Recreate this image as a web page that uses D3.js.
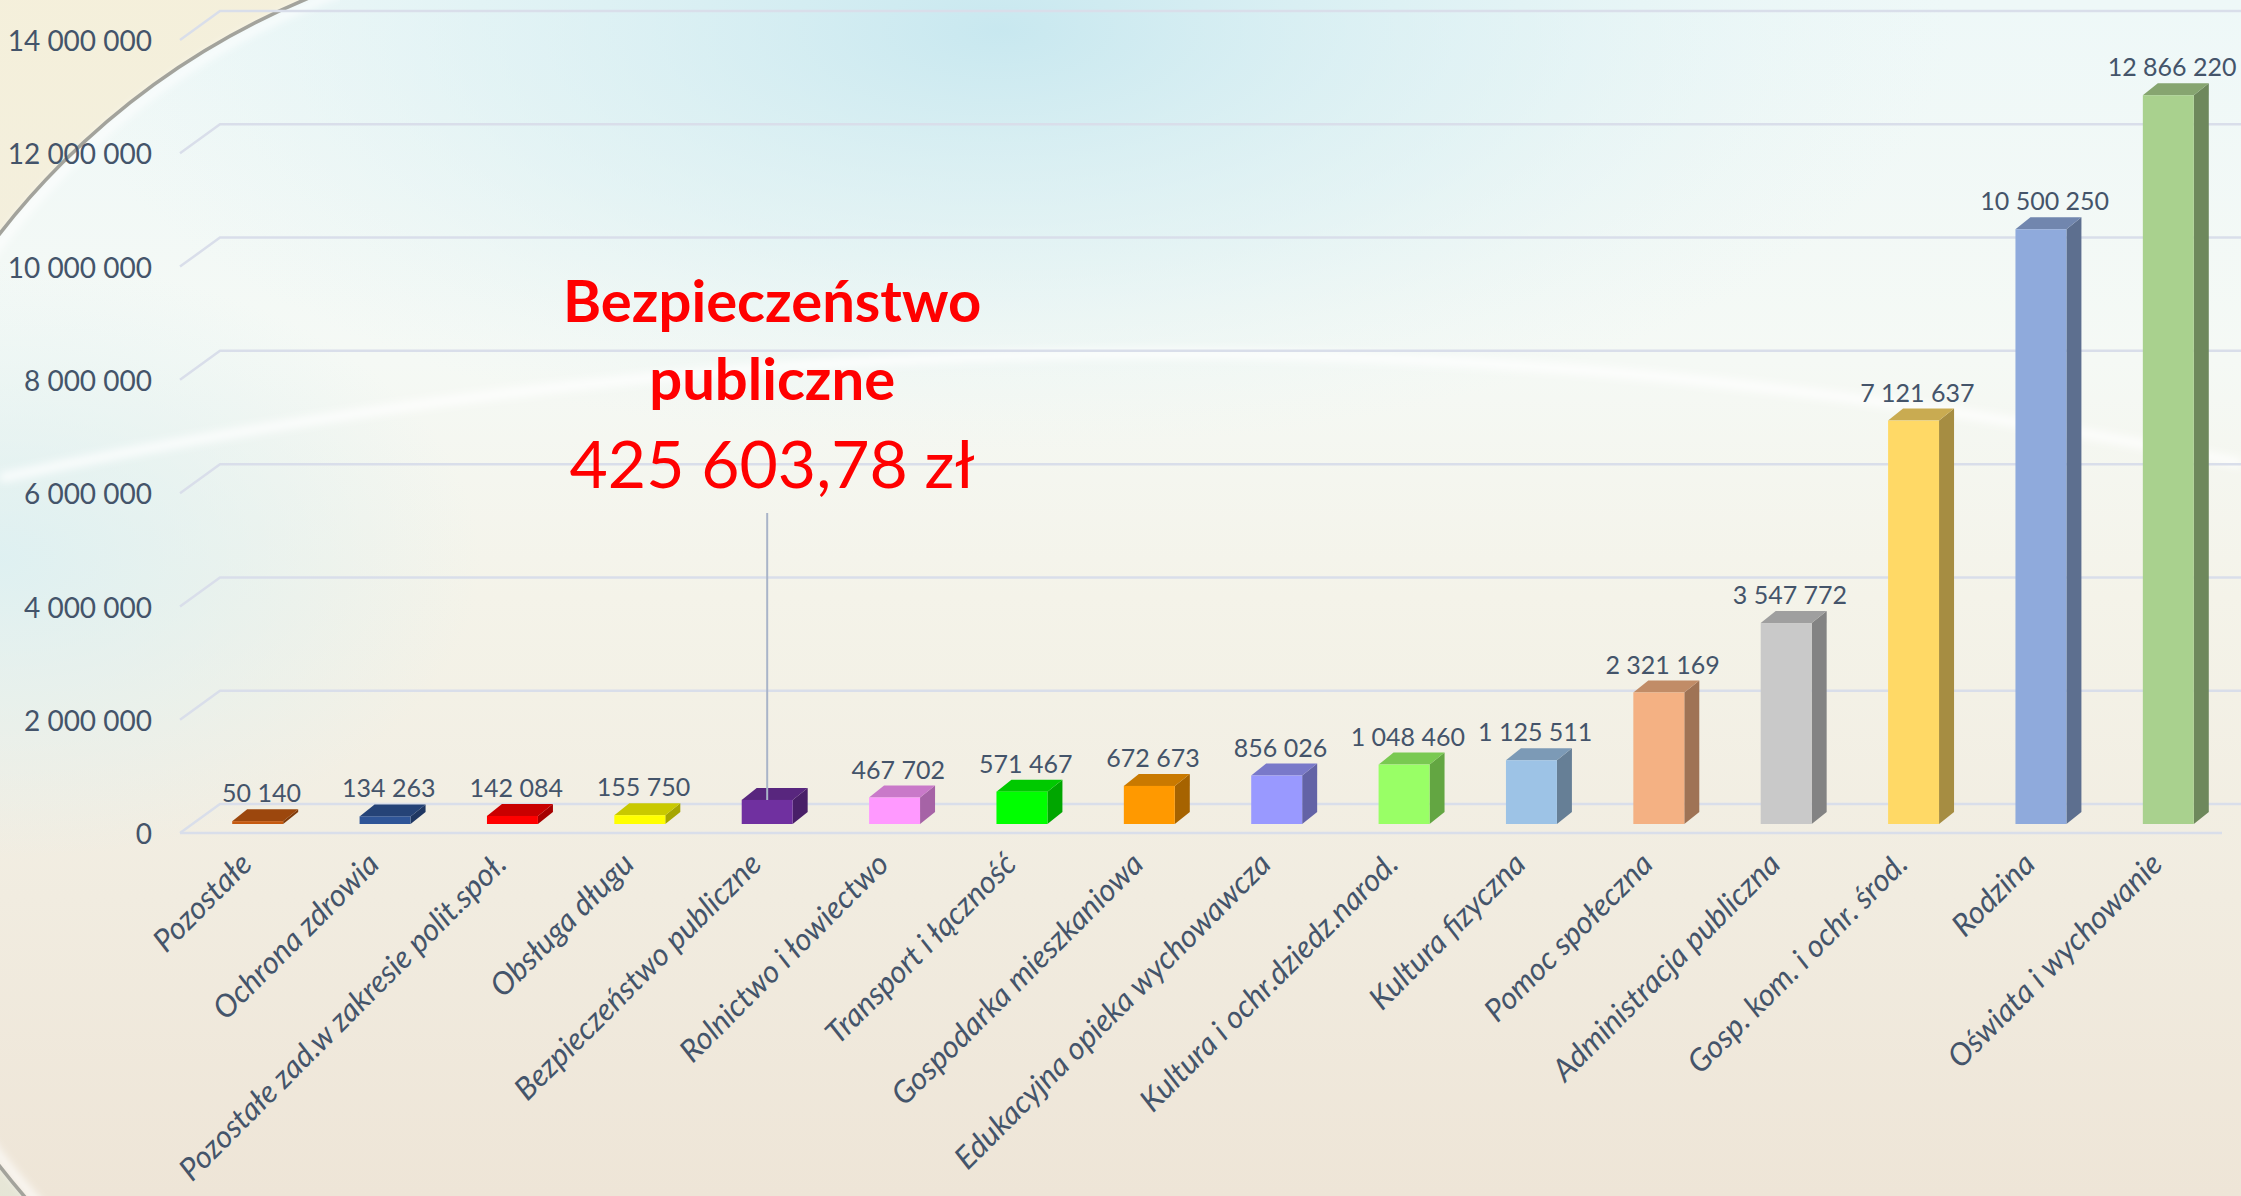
<!DOCTYPE html>
<html>
	<head>
		<title>Wydatki według działów</title>
		<meta charset="utf-8">
	</head>
	<body>
		<svg id="chart"></svg>
	</body>

	<script src="https://cdn.jsdelivr.net/npm/d3@7"></script>
	<script>
		// data
		const categories = [
			"Pozostałe",
			"Ochrona zdrowia",
			"Pozostałe zad.w zakresie polit.społ.",
			"Obsługa długu",
			"Bezpieczeństwo publiczne",
			"Rolnictwo i łowiectwo",
			"Transport i łączność",
			"Gospodarka mieszkaniowa",
			"Edukacyjna opieka wychowawcza",
			"Kultura i ochr.dziedz.narod.",
			"Kultura fizyczna",
			"Pomoc społeczna",
			"Administracja publiczna",
			"Gosp. kom. i ochr. środ.",
			"Rodzina",
			"Oświata i wychowanie"
		];
		const values = [50140, 134263, 142084, 155750, 425603.78, 467702, 571467, 672673,
			856026, 1048460, 1125511, 2321169, 3547772, 7121637, 10500250, 12866220];
		const barColors = ["#C55A11", "#2F5597", "#FF0000", "#FFFF00", "#7030A0", "#FF99FF",
			"#00FF00", "#FF9900", "#9999FF", "#99FF66", "#9DC3E6", "#F4B183",
			"#C9C9C9", "#FFD966", "#8FAADC", "#A9D18E"];
		const yTicks = [0, 2000000, 4000000, 6000000, 8000000, 10000000, 12000000, 14000000];
		const calloutLines = ["Bezpieczeństwo", "publiczne"];
		const calloutIndex = 4;

		const width = 2241, height = 1196;
		const textColor = "#44546A";
		const font = "Lato, 'Open Sans', sans-serif";

		const pl = d3.formatLocale({decimal: ",", thousands: " ", grouping: [3], currency: ["", " zł"]});
		const fmtInt = pl.format(",.0f");
		const fmtMoney = pl.format("$,.2f");

		const svg = d3.select("#chart")
			.attr("width", width)
			.attr("height", height);

		// ---------- background ----------
		const defs = svg.append("defs");

		const bg = defs.append("linearGradient").attr("id", "bg")
			.attr("x1", 0).attr("y1", 0).attr("x2", 0).attr("y2", 1);
		[[0, "#EEF8F8"], [0.3, "#F5F9F5"], [0.5, "#F4F3E9"], [1, "#EEE5D7"]]
			.forEach(s => bg.append("stop").attr("offset", s[0]).attr("stop-color", s[1]));

		const glow = defs.append("radialGradient").attr("id", "glowTop")
			.attr("gradientUnits", "userSpaceOnUse")
			.attr("cx", 0).attr("cy", 0).attr("r", 1)
			.attr("gradientTransform", "translate(1000,30) scale(950,420)");
		glow.append("stop").attr("offset", 0).attr("stop-color", "#C6E7EF").attr("stop-opacity", 0.95);
		glow.append("stop").attr("offset", 0.55).attr("stop-color", "#D6EEF2").attr("stop-opacity", 0.5);
		glow.append("stop").attr("offset", 1).attr("stop-color", "#E6F4F4").attr("stop-opacity", 0);

		const glowL = defs.append("radialGradient").attr("id", "glowLeft")
			.attr("gradientUnits", "userSpaceOnUse")
			.attr("cx", 0).attr("cy", 0).attr("r", 1)
			.attr("gradientTransform", "translate(0,560) scale(480,300)");
		glowL.append("stop").attr("offset", 0).attr("stop-color", "#DCF0F2").attr("stop-opacity", 0.9);
		glowL.append("stop").attr("offset", 1).attr("stop-color", "#DCF0F2").attr("stop-opacity", 0);

		const outer = defs.append("linearGradient").attr("id", "outer")
			.attr("x1", 0).attr("y1", 0).attr("x2", 0).attr("y2", 1);
		[[0, "#F5F0DA"], [0.5, "#F2EEDF"], [1, "#DCDFCF"]]
			.forEach(s => outer.append("stop").attr("offset", s[0]).attr("stop-color", s[1]));

		defs.append("clipPath").attr("id", "leftClip")
			.append("rect").attr("x", 0).attr("y", 0).attr("width", 340).attr("height", height);

		defs.append("filter").attr("id", "soft")
			.append("feGaussianBlur").attr("stdDeviation", 4);

		svg.append("rect").attr("width", width).attr("height", height).attr("fill", "url(#bg)");
		svg.append("rect").attr("width", width).attr("height", height).attr("fill", "url(#glowTop)");
		svg.append("rect").attr("width", width).attr("height", height).attr("fill", "url(#glowLeft)");

		// faint light band across the middle
		svg.append("path")
			.attr("d", "M0,478 Q1130,237 2241,463")
			.attr("fill", "none")
			.attr("stroke", "#FFFFFF")
			.attr("stroke-opacity", 0.85)
			.attr("stroke-width", 9)
			.attr("filter", "url(#soft)");

		// big circle edge on the left
		const cx = 600, cy = 700, cr = 760;
		const deco = svg.append("g").attr("clip-path", "url(#leftClip)");
		deco.append("path")
			.attr("d", `M-300,-200H1700V1600H-300Z M${cx - cr},${cy} a${cr},${cr} 0 1,0 ${2 * cr},0 a${cr},${cr} 0 1,0 ${-2 * cr},0Z`)
			.attr("fill", "url(#outer)")
			.attr("fill-rule", "evenodd");
		deco.append("circle")
			.attr("cx", cx).attr("cy", cy).attr("r", cr - 6)
			.attr("fill", "none")
			.attr("stroke", "#FFFFFF")
			.attr("stroke-opacity", 0.8)
			.attr("stroke-width", 8)
			.attr("filter", "url(#soft)");
		deco.append("circle")
			.attr("cx", cx).attr("cy", cy).attr("r", cr)
			.attr("fill", "none")
			.attr("stroke", "#A3A39C")
			.attr("stroke-width", 3.5);

		// ---------- scales ----------
		const x = d3.scaleBand()
			.domain(categories)
			.range([194, 2232])
			.paddingInner(0.6)
			.paddingOuter(0.3);
		const bw = x.bandwidth();

		// front edge, back wall and bar base planes of the 3d box
		const yFront = d3.scaleLinear().domain([0, 14000000]).range([833, 40]);
		const yBack  = d3.scaleLinear().domain([0, 14000000]).range([804, 11]);
		const yBar   = d3.scaleLinear().domain([0, 14000000]).range([824, 31]);

		const wallFront = 180, wallBack = 220;
		const depthX = 15, depthY = -12;

		// ---------- gridlines ----------
		svg.append("g")
			.selectAll("path")
			.data(yTicks)
			.enter().append("path")
				.attr("class", "grid")
				.attr("d", d => `M${wallFront},${yFront(d)}L${wallBack},${yBack(d)}H${width}`);

		svg.append("path")
			.attr("class", "grid")
			.attr("d", `M${wallFront},${yFront(0)}H2222`);

		// ---------- y axis ----------
		const yAxis = svg.append("g")
			.attr("transform", `translate(${wallFront},0)`)
			.call(d3.axisLeft(yFront).tickValues(yTicks).tickFormat(fmtInt).tickSize(0).tickPadding(28));
		yAxis.select(".domain").remove();
		yAxis.selectAll("text")
			.attr("dy", "0.38em")
			.attr("fill", textColor)
			.style("font-family", font)
			.style("font-size", "28px");

		// ---------- bars ----------
		const shade = (c, k) => {
			const r = d3.rgb(c);
			return d3.rgb(r.r * k, r.g * k, r.b * k).formatHex();
		};

		const bars = svg.append("g")
			.selectAll("g")
			.data(categories)
			.enter().append("g");

		bars.each(function (c, i) {
			const g = d3.select(this);
			const x0 = x(c), x1 = x0 + bw;
			const yt = yBar(values[i]), yb = yBar(0);
			const col = barColors[i];

			g.append("path")
				.attr("d", `M${x1},${yt}L${x1 + depthX},${yt + depthY}V${yb + depthY}L${x1},${yb}Z`)
				.attr("fill", shade(col, 0.65));
			g.append("path")
				.attr("d", `M${x0},${yt}L${x0 + depthX},${yt + depthY}H${x1 + depthX}L${x1},${yt}Z`)
				.attr("fill", shade(col, 0.79));
			g.append("rect")
				.attr("x", x0)
				.attr("y", yt)
				.attr("width", bw)
				.attr("height", yb - yt)
				.attr("fill", col);
		});

		// value labels
		svg.append("g")
			.selectAll("text")
			.data(categories.filter((c, i) => i !== calloutIndex))
			.enter().append("text")
				.attr("class", "value")
				.attr("x", c => x(c) + bw / 2 + depthX / 4)
				.attr("y", c => yBar(values[categories.indexOf(c)]) + depthY - 7)
				.attr("text-anchor", "middle")
				.text(c => fmtInt(values[categories.indexOf(c)]));

		// category labels
		svg.append("g")
			.selectAll("text")
			.data(categories)
			.enter().append("text")
				.attr("class", "category")
				.attr("text-anchor", "end")
				.attr("transform", c => `translate(${x(c) + bw / 2 - 4},866) rotate(-45)`)
				.text(c => c);

		// ---------- callout ----------
		const calloutX = x(categories[calloutIndex]) + bw / 2;

		svg.append("line")
			.attr("x1", calloutX).attr("y1", 513)
			.attr("x2", calloutX).attr("y2", yBar(values[calloutIndex]))
			.attr("stroke", "#A9B4C8")
			.attr("stroke-width", 2);

		const co = svg.append("g")
			.attr("class", "callout")
			.attr("transform", `translate(${calloutX + 5},0)`);

		co.selectAll(".co-title")
			.data(calloutLines)
			.enter().append("text")
				.attr("class", "co-title")
				.attr("y", (d, i) => 322 + i * 78)
				.text(d => d);

		co.append("text")
			.attr("class", "co-value")
			.attr("y", 488)
			.text(fmtMoney(values[calloutIndex]));
	</script>

	<style>
		html, body
		{
			margin: 0;
			overflow: hidden;
			background: #F2F2EA;
		}

		#chart
		{
			display: block;
		}

		.grid
		{
			fill: none;
			stroke: #D9DEEA;
			stroke-width: 2.5;
		}

		.value
		{
			font-family: Lato, "Open Sans", sans-serif;
			font-size: 25px;
			fill: #44546A;
		}

		.category
		{
			font-family: Lato, "Open Sans", sans-serif;
			font-size: 31px;
			font-style: italic;
			fill: #44546A;
		}

		.callout text
		{
			font-family: Lato, "Open Sans", sans-serif;
			fill: #FF0000;
			text-anchor: middle;
		}

		.co-title
		{
			font-size: 58px;
			font-weight: bold;
		}

		.co-value
		{
			font-size: 66px;
		}
	</style>
</html>
